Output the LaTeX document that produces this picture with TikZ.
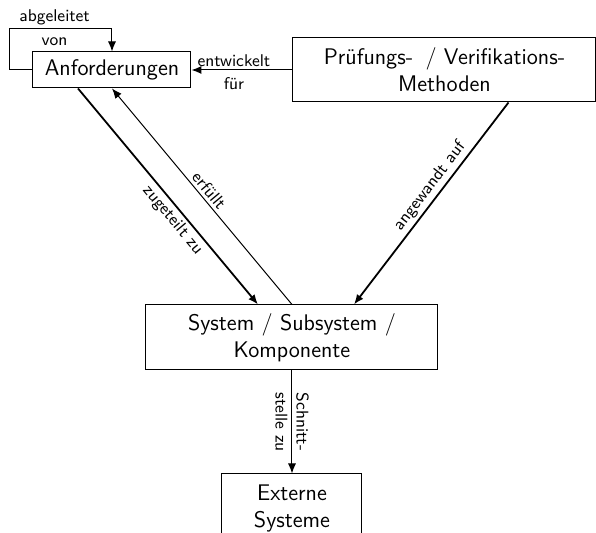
\documentclass[tikz,border=0pt]{standalone}
\usepackage{tikz}
\usetikzlibrary{
  arrows.meta,
  positioning
}
\tikzset{
  sysBox/.style={
    rectangle,
    draw,
    line width=0.5pt,
    inner sep=0pt,
    align=center,
    font=\sffamily\fontsize{11.3}{13.5}\selectfont
  },
  sysArrow/.style={
    -{Latex[length=5pt,width=4pt]},
    line width=0.5pt
  },
  sysArrowThick/.style={
    sysArrow,
    line width=0.9pt
  },
  sysLabel/.style={
    inner sep=1.5pt,
    font=\sffamily\fontsize{8.5}{10.5}\selectfont
  }
}

\begin{document}
\begin{tikzpicture}
  \useasboundingbox (-56pt,-231.5pt) rectangle (242pt,35pt);

  \node[sysBox, minimum width=79pt, minimum height=18pt]
    (req) {Anforderungen};

  \node[sysBox, minimum width=151.5pt, minimum height=32pt,
    right=50.5pt of req]
    (meth) {Prüfungs-\hspace{0.55em}/ Verifikations-\\Methoden};

  \node[sysBox, minimum width=146pt, minimum height=32.5pt,
    below=108pt of req, xshift=90pt]
    (sys) {System / Subsystem /\\Komponente};

  \node[sysBox, minimum width=70pt, minimum height=34pt,
    below=51.5pt of sys]
    (ext) {Externe\\Systeme};

  \draw[sysArrow] (req.west) -- ++(-11.5pt,0) |- ([yshift=11.5pt]req.north)
    node[sysLabel, pos=0.72, above] {abgeleitet}
    node[sysLabel, pos=0.72, below, yshift=-3pt] {von}
    -- (req.north);
  \draw[sysArrow] (meth.west) -- (req.east)
    node[sysLabel, pos=0.58, above] {entwickelt}
    node[sysLabel, pos=0.58, below, yshift=-2pt] {für};
  \draw[sysArrowThick] ([xshift=-17pt]req.south) -- ([xshift=-17pt]sys.north)
    node[sysLabel, pos=0.575, sloped, below] {zugeteilt zu};
  \draw[sysArrow] (sys.north) -- (req.south)
    node[sysLabel, midway, sloped, above] {erfüllt};
  \draw[sysArrowThick] ([xshift=32pt]meth.south) -- ([xshift=31pt]sys.north)
    node[sysLabel, pos=0.45, sloped, above] {angewandt auf};
  \draw[sysArrow] (sys.south) -- (ext.north)
    node[sysLabel, midway, rotate=-90, align=center] {Schnitt-\\stelle zu};
\end{tikzpicture}
\end{document}
